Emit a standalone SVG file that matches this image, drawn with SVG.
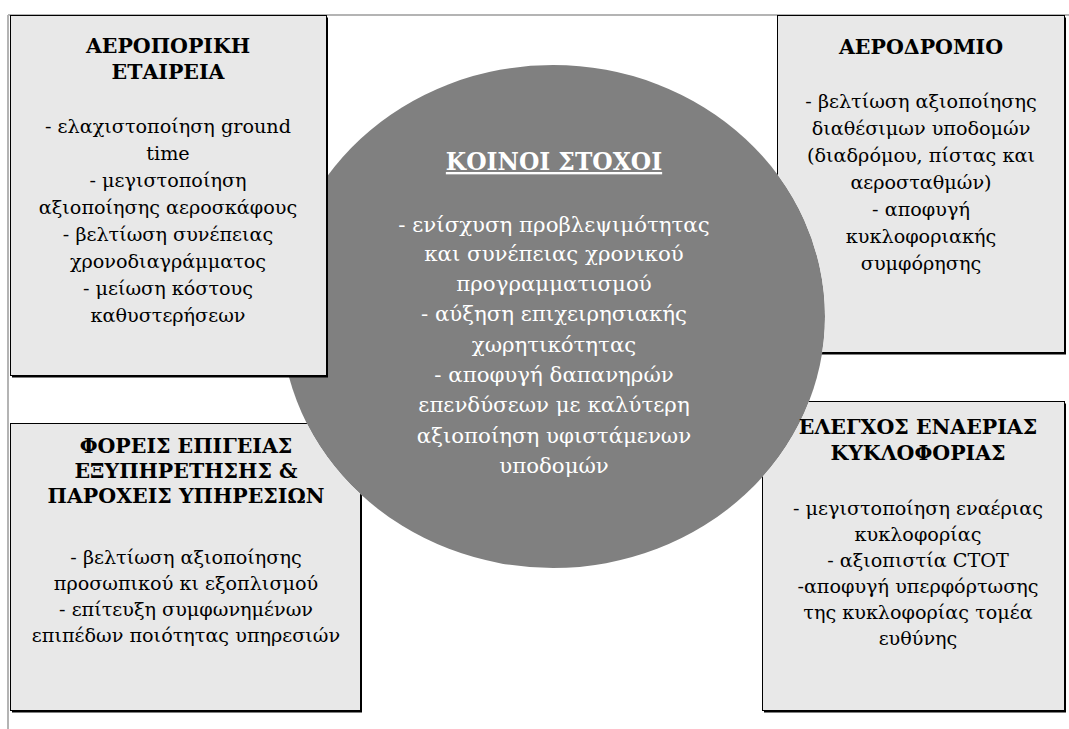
<svg xmlns="http://www.w3.org/2000/svg" width="1069" height="729" viewBox="0 0 1069 729">
<style>
  .t { font-weight: bold; font-size: 20.5px; }
  .w { fill: #fff; font-size: 21.3px; }
  .wt { fill: #fff; font-weight: bold; font-size: 23.4px; text-decoration: underline; }
  .box { fill: #e8e8e8; stroke: #000; stroke-width: 1; }
  .shadow { fill: #000; }
  .frame { stroke: #b4b4b4; stroke-width: 2; fill: none; }
</style>
<defs>
  <mask id="cut" maskUnits="userSpaceOnUse" x="0" y="0" width="1069" height="729">
    <rect x="0" y="0" width="1069" height="729" fill="#fff"/>
    <ellipse cx="553" cy="316.5" rx="272" ry="251.5" fill="#000"/>
  </mask>
</defs>
<rect x="0" y="0" width="1069" height="729" fill="#fff"/>
<path class="frame" d="M8,15 H1069 M8,15 V729"/>
<g id="connectors"/>
<g font-family="'DejaVu Serif', serif" font-size="19.2" text-anchor="middle" fill="#000">
<g id="node-common">
  <ellipse cx="553" cy="316.5" rx="272" ry="251.5" fill="#808080"/>
  <text class="wt" x="554" y="170">ΚΟΙΝΟΙ ΣΤΟΧΟΙ</text>
  <text class="w" x="554" y="232">- ενίσχυση προβλεψιμότητας</text>
  <text class="w" x="554" y="261">και συνέπειας χρονικού</text>
  <text class="w" x="554" y="291">προγραμματισμού</text>
  <text class="w" x="554" y="321">- αύξηση επιχειρησιακής</text>
  <text class="w" x="554" y="352">χωρητικότητας</text>
  <text class="w" x="554" y="382">- αποφυγή δαπανηρών</text>
  <text class="w" x="554" y="412">επενδύσεων με καλύτερη</text>
  <text class="w" x="554" y="443">αξιοποίηση υφιστάμενων</text>
  <text class="w" x="554" y="473">υποδομών</text>
</g>
<g id="node-airline">
  <rect class="shadow" x="12" y="17.5" width="316" height="360"/>
  <rect class="box" x="10.5" y="15.5" width="316" height="360"/>
  <text class="t" x="168" y="53">ΑΕΡΟΠΟΡΙΚΗ</text>
  <text class="t" x="168" y="79">ΕΤΑΙΡΕΙΑ</text>
  <text x="168" y="133">- ελαχιστοποίηση ground</text>
  <text x="168" y="160">time</text>
  <text x="168" y="187">- μεγιστοποίηση</text>
  <text x="168" y="214">αξιοποίησης αεροσκάφους</text>
  <text x="168" y="241">- βελτίωση συνέπειας</text>
  <text x="168" y="268">χρονοδιαγράμματος</text>
  <text x="168" y="295">- μείωση κόστους</text>
  <text x="168" y="322">καθυστερήσεων</text>
</g>
<g id="node-airport">
  <g mask="url(#cut)">
    <rect class="shadow" x="779" y="17.5" width="287" height="337"/>
    <rect class="box" x="777.5" y="15.5" width="287" height="337"/>
  </g>
  <text class="t" x="921" y="54">ΑΕΡΟΔΡΟΜΙΟ</text>
  <text x="921" y="108">- βελτίωση αξιοποίησης</text>
  <text x="921" y="135">διαθέσιμων υποδομών</text>
  <text x="921" y="162">(διαδρόμου, πίστας και</text>
  <text x="921" y="189">αεροσταθμών)</text>
  <text x="921" y="216">- αποφυγή</text>
  <text x="921" y="243">κυκλοφοριακής</text>
  <text x="921" y="270">συμφόρησης</text>
</g>
<g id="node-ground">
  <g mask="url(#cut)">
    <rect class="shadow" x="12" y="425.5" width="350" height="287"/>
    <rect class="box" x="10.5" y="423.5" width="350" height="287"/>
  </g>
  <text class="t" x="186" y="453">ΦΟΡΕΙΣ ΕΠΙΓΕΙΑΣ</text>
  <text class="t" x="186" y="478">ΕΞΥΠΗΡΕΤΗΣΗΣ &amp;</text>
  <text class="t" x="186" y="503">ΠΑΡΟΧΕΙΣ ΥΠΗΡΕΣΙΩΝ</text>
  <text x="186" y="564">- βελτίωση αξιοποίησης</text>
  <text x="186" y="590">προσωπικού κι εξοπλισμού</text>
  <text x="186" y="616">- επίτευξη συμφωνημένων</text>
  <text x="186" y="642">επιπέδων ποιότητας υπηρεσιών</text>
</g>
<g id="node-atc">
  <g mask="url(#cut)">
    <rect class="shadow" x="764" y="403.5" width="302" height="309"/>
    <rect class="box" x="762.5" y="401.5" width="302" height="309"/>
  </g>
  <text class="t" x="918" y="434">ΕΛΕΓΧΟΣ ΕΝΑΕΡΙΑΣ</text>
  <text class="t" x="918" y="460">ΚΥΚΛΟΦΟΡΙΑΣ</text>
  <text x="918" y="515">- μεγιστοποίηση εναέριας</text>
  <text x="918" y="541">κυκλοφορίας</text>
  <text x="918" y="567">- αξιοπιστία CTOT</text>
  <text x="918" y="593">-αποφυγή υπερφόρτωσης</text>
  <text x="918" y="619">της κυκλοφορίας τομέα</text>
  <text x="918" y="645">ευθύνης</text>
</g>
</g>
</svg>
